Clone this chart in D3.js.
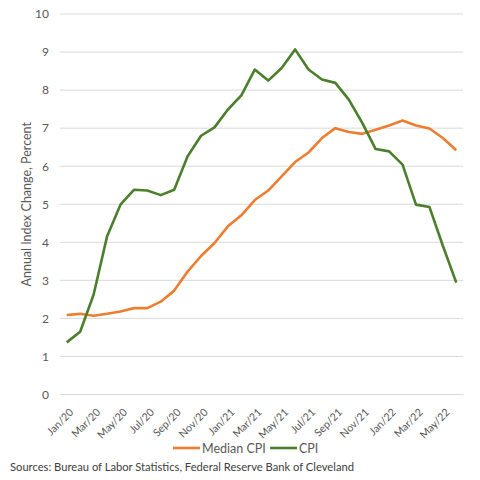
<!DOCTYPE html>
<html>
<head>
<meta charset="utf-8">
<script src="https://cdn.jsdelivr.net/npm/d3@7"></script>
<style>
  body { margin: 0; background: #fff; }
  text { font-family: Lato, "Open Sans", sans-serif; }
</style>
</head>
<body>
<svg width="480" height="480"></svg>
<script>
// Months Jan/20 .. Jun/22
const months = ["Jan/20", "Feb/20", "Mar/20", "Apr/20", "May/20", "Jun/20", "Jul/20", "Aug/20", "Sep/20", "Oct/20",
                "Nov/20", "Dec/20", "Jan/21", "Feb/21", "Mar/21", "Apr/21", "May/21", "Jun/21", "Jul/21", "Aug/21",
                "Sep/21", "Oct/21", "Nov/21", "Dec/21", "Jan/22", "Feb/22", "Mar/22", "Apr/22", "May/22", "Jun/22"];
const medianCPI = [2.09, 2.12, 2.07, 2.12, 2.18, 2.27, 2.27, 2.44, 2.73, 3.23,
                   3.64, 3.98, 4.42, 4.71, 5.11, 5.36, 5.73, 6.11, 6.36, 6.74,
                   7.0, 6.9, 6.85, 6.96, 7.07, 7.2, 7.07, 6.99, 6.74, 6.42];
const cpi = [1.37, 1.65, 2.62, 4.15, 4.99, 5.38, 5.36, 5.24, 5.38, 6.26,
             6.8, 7.02, 7.49, 7.86, 8.54, 8.25, 8.58, 9.07, 8.54, 8.28,
             8.19, 7.75, 7.14, 6.45, 6.39, 6.04, 4.99, 4.93, 3.91, 2.94];
const yTicks = [0, 1, 2, 3, 4, 5, 6, 7, 8, 9, 10];

const svg = d3.select("svg");
const plot = { left: 60, right: 463, top: 14, bottom: 394.5 };

// Scales
const xScale = d3.scalePoint()
                 .domain(months)
                 .range([plot.left, plot.right])
                 .padding(0.5);
const yScale = d3.scaleLinear()
                 .domain([0, 10])
                 .range([plot.bottom, plot.top]);

// Gridlines
svg.append("g")
   .selectAll("line")
   .data(yTicks)
   .enter()
   .append("line")
   .attr("x1", plot.left)
   .attr("x2", plot.right)
   .attr("y1", d => yScale(d))
   .attr("y2", d => yScale(d))
   .attr("stroke", "#d9d9d9")
   .attr("stroke-width", 1);

// Y axis labels
const yAxis = svg.append("g")
                 .attr("transform", `translate(${plot.left}, 0)`)
                 .call(d3.axisLeft(yScale).tickValues(yTicks).tickSize(0).tickPadding(11));
yAxis.select(".domain").remove();
yAxis.selectAll("text")
     .style("font-size", "12px")
     .style("font-family", "Lato, sans-serif")
     .style("fill", "#595959");

// X axis labels (every other month)
const xAxis = svg.append("g")
                 .attr("transform", `translate(0, ${plot.bottom})`)
                 .call(d3.axisBottom(xScale).tickValues(months.filter((d, i) => i % 2 === 0)).tickSize(0));
xAxis.select(".domain").remove();
xAxis.selectAll("text")
     .attr("text-anchor", "end")
     .attr("dx", "0.1em")
     .attr("dy", "0.55em")
     .attr("transform", "translate(0, 13) rotate(-45)")
     .style("font-size", "10.6px")
     .style("font-family", "Lato, sans-serif")
     .style("fill", "#595959");

// Y axis title
svg.append("text")
   .attr("transform", `translate(31, ${(plot.top + plot.bottom) / 2}) rotate(-90)`)
   .attr("text-anchor", "middle")
   .style("font-size", "12.5px")
   .style("fill", "#595959")
   .text("Annual Index Change, Percent");

// Lines
const line = d3.line()
               .x((d, i) => xScale(months[i]))
               .y(d => yScale(d));

const series = [
    { label: "Median CPI", values: medianCPI, color: "#ed7d31" },
    { label: "CPI", values: cpi, color: "#4a7f2b" }
];

series.forEach(s => {
    svg.append("path")
       .datum(s.values)
       .attr("fill", "none")
       .attr("stroke", s.color)
       .attr("stroke-width", 2.6)
       .attr("stroke-linejoin", "round")
       .attr("d", line);
});

// Legend
const legend = svg.append("g").attr("transform", "translate(173, 448)");
const legendX = [0, 97];
const legendGroups = legend.selectAll(".legend-item")
                           .data(series)
                           .enter()
                           .append("g")
                           .attr("transform", (d, i) => `translate(${legendX[i]}, 0)`);
legendGroups.append("line")
            .attr("x1", 0)
            .attr("x2", 27)
            .attr("stroke", d => d.color)
            .attr("stroke-width", 2.6);
legendGroups.append("text")
            .attr("x", 29)
            .attr("y", 4.5)
            .style("font-size", "12.5px")
            .style("fill", "#595959")
            .text(d => d.label);

// Source note
svg.append("text")
   .attr("x", 10)
   .attr("y", 471)
   .style("font-size", "11.2px")
   .style("fill", "#404040")
   .text("Sources: Bureau of Labor Statistics, Federal Reserve Bank of Cleveland");
</script>
</body>
</html>
